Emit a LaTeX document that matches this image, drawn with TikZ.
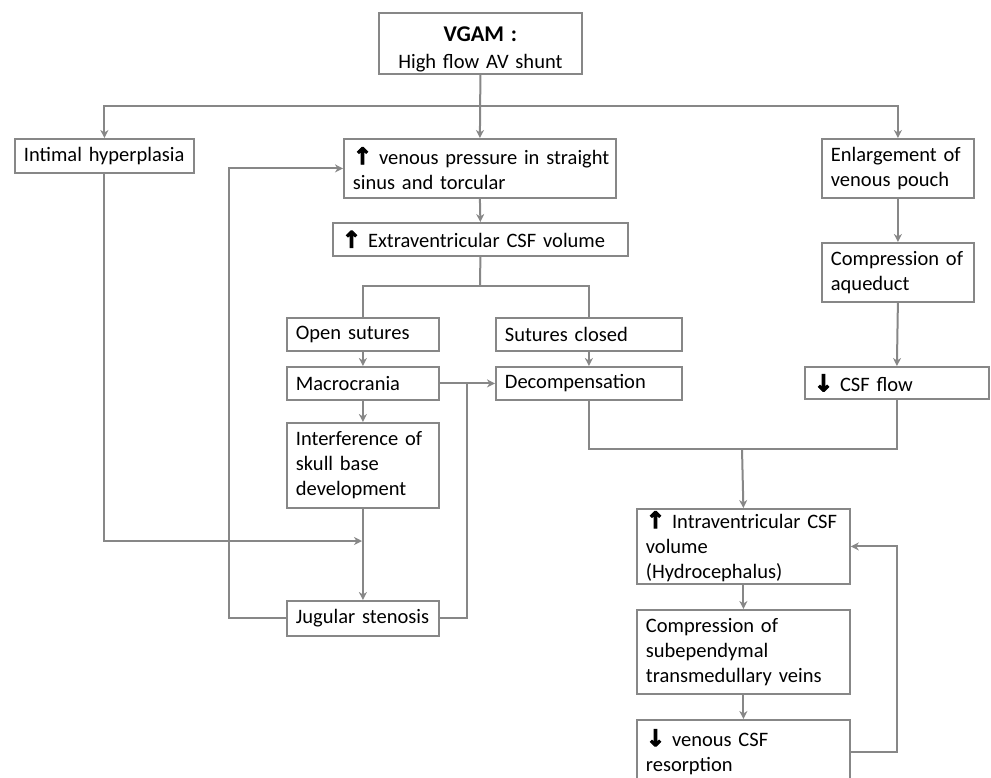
\documentclass[tikz,border=0pt]{standalone}
\usepackage{fontspec}
\setmainfont{Carlito}
\newfontfamily\arrowfont[FakeBold=4]{DejaVu Sans Bold}
\usetikzlibrary{arrows.meta}
\definecolor{lc}{RGB}{135,135,135}
\newcommand{\up}{{\arrowfont\fontsize{23}{25}\selectfont ↑}}
\newcommand{\dn}{{\arrowfont\fontsize{23}{25}\selectfont ↓}}
\begin{document}
\begin{tikzpicture}[x=1pt,y=-1pt,
  bx/.style={draw=lc, line width=1.8pt, anchor=north west, inner xsep=9pt, inner ysep=0pt,
    align=left, font=\fontsize{20.5}{25}\selectfont, text=black},
  line/.style={draw=lc, line width=2pt},
  arr/.style={line, -{Stealth[length=8pt,width=8pt,inset=2.5pt]}}]
\useasboundingbox (0,0) rectangle (991,777);
% boxes
\node[bx, align=center, text width=185pt, minimum height=61pt] (vgam) at (378,12)
  {\rule{0pt}{27pt}{\fontsize{22.5}{25}\selectfont\textbf{VGAM :}}\\[2pt]High flow AV shunt};
\node[bx, text width=161pt, minimum height=34pt] (intimal) at (14,138) {\mbox{Intimal hyperplasia}};
\node[bx, text width=254pt, minimum height=59pt] (venous) at (343,138)
  {\mbox{\up\ venous pressure in straight}\\\mbox{sinus and torcular}};
\node[bx, text width=277pt, minimum height=33pt] (extra) at (332,222)
  {\mbox{\up\ Extraventricular CSF volume}};
\node[bx, text width=134pt, minimum height=59pt] (enlarge) at (821,138)
  {\mbox{Enlargement of}\\\mbox{venous pouch}};
\node[bx, text width=134pt, minimum height=59pt] (compaq) at (821,242)
  {\mbox{Compression of}\\\mbox{aqueduct}};
\node[bx, text width=134pt, minimum height=33pt] (open) at (286,317) {\mbox{Open sutures}};
\node[bx, text width=134pt, minimum height=33pt] (macro) at (286,366) {\mbox{Macrocrania}};
\node[bx, text width=134pt, minimum height=85pt] (interf) at (286,422)
  {\mbox{Interference of}\\\mbox{skull base}\\\mbox{development}};
\node[bx, text width=168pt, minimum height=33pt] (closed) at (495,317) {\mbox{Sutures closed}};
\node[bx, text width=168pt, minimum height=33pt] (decomp) at (495,366) {\mbox{Decompensation}};
\node[bx, text width=166pt, minimum height=32pt] (csfflow) at (804,366) {\mbox{\dn\ CSF flow}};
\node[bx, text width=134pt, minimum height=35pt] (jug) at (286,600) {\mbox{Jugular stenosis}};
\node[bx, text width=195pt, minimum height=75pt] (intra) at (636,508)
  {\mbox{\up\ Intraventricular CSF}\\\mbox{volume}\\\mbox{(Hydrocephalus)}};
\node[bx, text width=195pt, minimum height=84pt] (subep) at (636,609)
  {\mbox{Compression of}\\\mbox{subependymal}\\\mbox{transmedullary veins}};
\node[bx, text width=195pt, minimum height=64pt] (resorp) at (636,719)
  {\mbox{\dn\ venous CSF}\\\mbox{resorption}};
% helper coordinates
\coordinate (split) at (480,106);
\coordinate (split2) at (480,286);
\coordinate (m1) at (362,541);
\coordinate (m2) at (742,449);
\coordinate (j1) at (467,382.5);
\coordinate (lp) at (229,0);
\coordinate (rp) at (897,0);
% connectors
\draw[arr] (vgam.south) -- (venous.north);
\draw[arr] (split) -| (intimal.north);
\draw[arr] (split) -| (enlarge.north);
\draw[arr] (venous.south) -- (extra.north);
\draw[line] (extra.south) -- (split2);
\draw[line] (split2) -| (open.north);
\draw[line] (split2) -| (closed.north);
\draw[arr] (open.south) -- (macro.north);
\draw[arr] (macro.south) -- (interf.north);
\draw[arr] (interf.south) -- (jug.north);
\draw[arr] (closed.south) -- (decomp.north);
\draw[arr] (macro.east) -- (decomp.west);
\draw[line] (jug.east) -| (j1);
\draw[arr] (jug.west) -| (lp |- venous.west) -- (venous.west);
\draw[arr] (intimal.south) |- (m1);
\draw[arr] (enlarge.south) -- (compaq.north);
\draw[arr] (compaq.south) -- (csfflow.north);
\draw[line] (decomp.south) |- (m2) -| (csfflow.south);
\draw[arr] (m2) -- (intra.north);
\draw[arr] (intra.south) -- (subep.north);
\draw[arr] (subep.south) -- (resorp.north);
\draw[arr] (resorp.east) -| (rp |- intra.east) -- (intra.east);
\end{tikzpicture}
\end{document}
